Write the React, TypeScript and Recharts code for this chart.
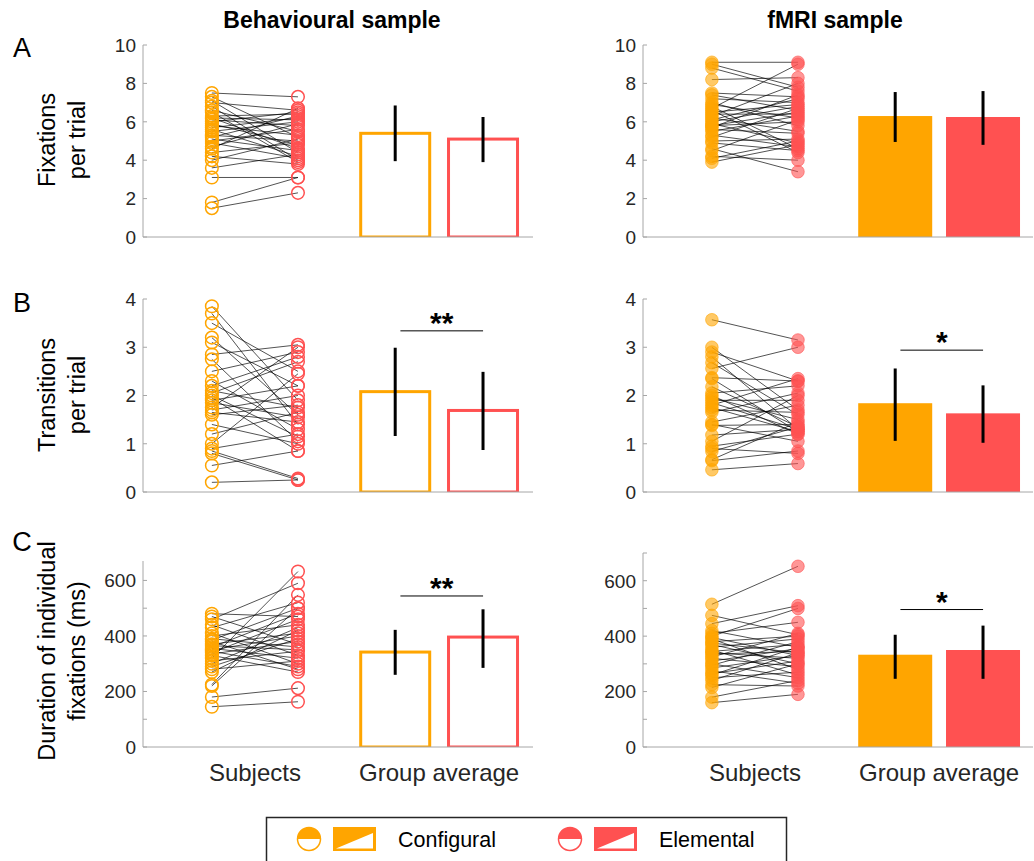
import React from "react";
import { Bar, ComposedChart, ErrorBar, Label, ReferenceLine, Scatter, XAxis, YAxis } from "recharts";

const ORANGE = "#ffa500";
const RED = "#ff5151";
const AXIS = "#a6a6a6";
const TXT = "#262626";
const FONT = "'Liberation Sans', Arial, Helvetica, sans-serif";

// x positions (axis units) of the four groups in every panel
const X_MIN = 0.2;
const X_MAX = 4.73;
const X_SUBJ = [1, 2];
const X_BAR = [3.13, 4.15];
const X_LABEL_POS = [1.5, 3.64];
const X_LABELS = ["Subjects", "Group average"];

// A: fixations per trial
const behavFixConf = [7.5, 7.3, 7.1, 7.0, 6.8, 6.6, 6.5, 6.3, 6.2, 6.2, 6.1, 6.0, 5.9, 5.8, 5.7, 5.6, 5.5, 5.3, 5.2, 5.1, 5.0, 4.9, 4.7, 4.6, 4.4, 4.2, 4.0, 3.6, 3.1, 1.8, 1.5];
const behavFixElem = [7.3, 5.2, 4.4, 6.6, 4.0, 5.5, 3.9, 6.4, 6.1, 4.6, 5.8, 6.5, 4.8, 5.3, 6.2, 4.2, 6.0, 5.0, 6.3, 4.5, 5.6, 4.1, 5.9, 6.7, 4.9, 3.8, 5.1, 4.3, 3.1, 3.1, 2.3];
const fmriFixConf = [9.1, 9.0, 8.8, 8.2, 7.5, 7.4, 7.2, 7.0, 6.9, 6.8, 6.7, 6.6, 6.5, 6.4, 6.3, 6.2, 6.1, 6.0, 5.9, 5.8, 5.8, 5.7, 5.6, 5.5, 5.3, 5.2, 5.0, 4.9, 4.6, 4.5, 4.2, 4.1, 3.9];
const fmriFixElem = [9.1, 7.8, 7.6, 8.3, 7.3, 6.6, 7.0, 5.8, 6.2, 4.6, 9.0, 4.4, 6.9, 6.4, 8.0, 5.5, 7.2, 6.8, 4.9, 6.5, 6.0, 7.4, 5.4, 6.3, 4.7, 6.7, 5.1, 4.5, 3.4, 6.1, 4.0, 5.0, 4.8];

// B: transitions per trial
const behavTrConf = [3.85, 3.7, 3.5, 3.2, 3.1, 2.85, 2.75, 2.5, 2.3, 2.2, 2.1, 2.05, 2.0, 1.95, 1.9, 1.85, 1.75, 1.7, 1.65, 1.6, 1.4, 1.2, 1.0, 0.9, 0.85, 0.8, 0.55, 0.2];
const behavTrElem = [1.9, 1.4, 2.5, 1.6, 2.2, 3.05, 1.05, 2.9, 1.3, 2.8, 1.75, 2.7, 1.15, 0.85, 2.2, 1.55, 3.0, 2.0, 1.45, 1.8, 1.0, 1.65, 2.45, 1.2, 0.28, 0.25, 0.85, 0.25];
const fmriTrConf = [3.57, 3.0, 2.9, 2.8, 2.68, 2.56, 2.37, 2.35, 2.18, 2.05, 2.0, 1.95, 1.9, 1.85, 1.8, 1.75, 1.7, 1.65, 1.45, 1.4, 1.38, 1.18, 1.05, 0.95, 0.9, 0.84, 0.67, 0.65, 0.46];
const fmriTrElem = [3.15, 1.7, 2.3, 1.3, 1.6, 3.0, 2.3, 1.25, 1.35, 2.2, 1.2, 1.5, 1.9, 1.3, 2.35, 1.25, 1.65, 2.05, 1.8, 1.05, 1.4, 1.3, 2.0, 1.2, 0.8, 1.35, 1.45, 0.85, 0.59];

// C: duration of individual fixations (ms)
const behavDurConf = [480, 470, 460, 440, 430, 410, 400, 390, 385, 380, 370, 365, 360, 355, 350, 345, 340, 335, 330, 320, 310, 300, 290, 280, 270, 225, 220, 180, 145];
const behavDurElem = [470, 370, 590, 330, 520, 300, 440, 360, 500, 280, 410, 350, 480, 320, 400, 290, 460, 380, 270, 632, 345, 430, 390, 310, 420, 548, 500, 212, 163];
const fmriDurConf = [515, 475, 445, 420, 410, 400, 395, 390, 380, 375, 370, 360, 350, 345, 340, 335, 325, 320, 310, 300, 295, 285, 275, 265, 260, 250, 240, 225, 215, 180, 160];
const fmriDurElem = [652, 405, 510, 360, 450, 500, 330, 280, 400, 340, 300, 390, 260, 370, 320, 345, 410, 290, 355, 250, 380, 330, 230, 310, 360, 270, 340, 220, 300, 240, 190];

// group averages [configural, elemental] and error bar ends
const behavFixMean = [5.4, 5.1];
const behavFixLo = [3.95, 3.9];
const behavFixHi = [6.85, 6.25];
const fmriFixMean = [6.3, 6.25];
const fmriFixLo = [4.95, 4.8];
const fmriFixHi = [7.55, 7.6];
const behavTrMean = [2.08, 1.69];
const behavTrLo = [1.16, 0.87];
const behavTrHi = [2.99, 2.49];
const fmriTrMean = [1.84, 1.63];
const fmriTrLo = [1.06, 1.02];
const fmriTrHi = [2.56, 2.21];
const behavDurMean = [342, 396];
const behavDurLo = [260, 285];
const behavDurHi = [422, 496];
const fmriDurMean = [333, 350];
const fmriDurLo = [246, 246];
const fmriDurHi = [405, 438];

type PanelProps = {
  conf: number[];
  elem: number[];
  mean: number[];
  lo: number[];
  hi: number[];
  yMax: number;
  ticks: number[];
  labelled: number[];
  filled: boolean;
  sig?: { y: number; text: string };
  left: number;
  top: number;
  plotH: number;
  showX: boolean;
};

const YW = 50;
const PLOT_W = 390;
const M_TOP = 16;

function YTick(props: any) {
  const { x, y, payload, labelled } = props;
  const ax = x + 7;
  return (
    <g>
      <line x1={ax} x2={ax + 4} y1={y} y2={y} stroke={AXIS} strokeWidth={1} />
      {labelled.includes(payload.value) && (
        <text x={x} y={y} dy="0.36em" textAnchor="end" fontSize={19} fill={TXT} fontFamily={FONT}>
          {payload.value}
        </text>
      )}
    </g>
  );
}

function XTick(props: any) {
  const { x, y, payload } = props;
  const idx = X_LABEL_POS.indexOf(payload.value);
  return (
    <text x={x} y={y + 26} textAnchor="middle" fontSize={24} fill={TXT} fontFamily={FONT}>
      {X_LABELS[idx]}
    </text>
  );
}

function Panel(p: PanelProps) {
  const colors = [ORANGE, RED];
  const bars = p.mean.map((m, i) => ({ x: X_BAR[i], mean: m, err: [m - p.lo[i], p.hi[i] - m] }));
  const confPts = p.conf.map((v) => ({ x: X_SUBJ[0], y: v }));
  const elemPts = p.elem.map((v) => ({ x: X_SUBJ[1], y: v }));
  const xH = p.showX ? 48 : 14;
  const width = YW + PLOT_W + 2;
  const height = M_TOP + p.plotH + xH;

  const barShape = (s: any) => {
    const c = colors[s.index];
    const cx = s.x + s.width / 2;
    const w = p.filled ? 74 : 69;
    return p.filled ? (
      <rect x={cx - w / 2} y={s.y} width={w} height={s.height} fill={c} />
    ) : (
      <rect x={cx - w / 2} y={s.y} width={w} height={s.height} fill="none" stroke={c} strokeWidth={3} />
    );
  };
  const dot = (c: string) => (s: any) =>
    p.filled ? (
      <circle cx={s.cx} cy={s.cy} r={6.3} fill={c} fillOpacity={0.6} stroke={c} strokeOpacity={0.6} strokeWidth={1} />
    ) : (
      <circle cx={s.cx} cy={s.cy} r={6.3} fill="none" stroke={c} strokeWidth={1.5} />
    );

  return (
    <div style={{ position: "absolute", left: p.left - YW, top: p.top - M_TOP }}>
      <ComposedChart width={width} height={height} data={bars} margin={{ top: M_TOP, right: 2, bottom: 0, left: 0 }}>
        <XAxis
          type="number"
          dataKey="x"
          domain={[X_MIN, X_MAX]}
          allowDataOverflow
          ticks={p.showX ? X_LABEL_POS : []}
          tick={p.showX ? <XTick /> : false}
          tickLine={false}
          axisLine={{ stroke: AXIS, strokeWidth: 1 }}
          height={xH}
          interval={0}
        />
        <YAxis
          type="number"
          domain={[0, p.yMax]}
          allowDataOverflow
          ticks={p.ticks}
          interval={0}
          width={YW}
          tickSize={0}
          tickMargin={7}
          tickLine={false}
          axisLine={{ stroke: AXIS, strokeWidth: 1 }}
          tick={<YTick labelled={p.labelled} />}
        />
        <Bar dataKey="mean" barSize={70} shape={barShape} isAnimationActive={false}>
          <ErrorBar dataKey="err" direction="y" width={0} stroke="#000" strokeWidth={3} />
        </Bar>
        <Scatter data={confPts} dataKey="y" shape={dot(ORANGE)} isAnimationActive={false} />
        <Scatter data={elemPts} dataKey="y" shape={dot(RED)} isAnimationActive={false} />
        {p.conf.map((v, i) => (
          <ReferenceLine
            key={i}
            segment={[
              { x: X_SUBJ[0], y: v },
              { x: X_SUBJ[1], y: p.elem[i] },
            ]}
            stroke="#000"
            strokeOpacity={0.68}
            strokeWidth={1}
          />
        ))}
        {p.sig && (
          <ReferenceLine
            segment={[
              { x: 3.19, y: p.sig.y },
              { x: 4.15, y: p.sig.y },
            ]}
            stroke="#000"
            strokeWidth={1}
          >
            <Label value={p.sig.text} position="top" offset={-2} fontSize={30} fontWeight="bold" fill="#000" fontFamily={FONT} />
          </ReferenceLine>
        )}
      </ComposedChart>
    </div>
  );
}

const LEFT_X = 143;
const RIGHT_X = 643;

export default function App() {
  return (
    <div style={{ position: "absolute", left: 0, top: 0, width: 1034, height: 861, background: "#fff", overflow: "hidden", fontFamily: FONT }}>
      <svg width={1034} height={861} style={{ position: "absolute", left: 0, top: 0 }}>
        <g fontFamily={FONT} fill="#000">
          <text x={332} y={28} textAnchor="middle" fontSize={23} fontWeight="bold">Behavioural sample</text>
          <text x={835} y={28} textAnchor="middle" fontSize={23} fontWeight="bold">fMRI sample</text>
          <text x={22} y={57} textAnchor="middle" fontSize={27}>A</text>
          <text x={22} y={312} textAnchor="middle" fontSize={27}>B</text>
          <text x={22} y={551} textAnchor="middle" fontSize={27}>C</text>
          <g fontSize={23.5} textAnchor="middle" dominantBaseline="central">
            <text transform="translate(47,140) rotate(-90)">Fixations</text>
            <text transform="translate(77,140) rotate(-90)">per trial</text>
            <text transform="translate(47,395) rotate(-90)">Transitions</text>
            <text transform="translate(77,395) rotate(-90)">per trial</text>
            <text transform="translate(47,651) rotate(-90)">Duration of individual</text>
            <text transform="translate(77,651) rotate(-90)">fixations (ms)</text>
          </g>
        </g>
        <g>
          <rect x={266.5} y={817.5} width={520} height={60} fill="#fff" stroke="#262626" strokeWidth={1.5} />
          {[
            { c: ORANGE, x: 309, t: "Configural" },
            { c: RED, x: 570, t: "Elemental" },
          ].map((e) => (
            <g key={e.t}>
              <path d={`M ${e.x - 11.5} 839 A 11.5 11.5 0 0 1 ${e.x + 11.5} 839 Z`} fill={e.c} />
              <circle cx={e.x} cy={839} r={11.5} fill="none" stroke={e.c} strokeWidth={1.5} />
              <rect x={e.x + 25} y={828} width={41} height={22} fill={e.c} stroke={e.c} strokeWidth={2} />
              <path d={`M ${e.x + 27} 848.5 L ${e.x + 64} 833 L ${e.x + 64} 848.5 Z`} fill="#fff" />
              <text x={e.x + 89} y={847} fontSize={21.5} fill="#000" fontFamily={FONT}>{e.t}</text>
            </g>
          ))}
        </g>
      </svg>

      <Panel conf={behavFixConf} elem={behavFixElem} mean={behavFixMean} lo={behavFixLo} hi={behavFixHi}
        yMax={10} ticks={[0, 2, 4, 6, 8, 10]} labelled={[0, 2, 4, 6, 8, 10]} filled={false}
        left={LEFT_X} top={45} plotH={192} showX={false} />
      <Panel conf={fmriFixConf} elem={fmriFixElem} mean={fmriFixMean} lo={fmriFixLo} hi={fmriFixHi}
        yMax={10} ticks={[0, 2, 4, 6, 8, 10]} labelled={[0, 2, 4, 6, 8, 10]} filled
        left={RIGHT_X} top={45} plotH={192} showX={false} />
      <Panel conf={behavTrConf} elem={behavTrElem} mean={behavTrMean} lo={behavTrLo} hi={behavTrHi}
        yMax={4} ticks={[0, 1, 2, 3, 4]} labelled={[0, 1, 2, 3, 4]} filled={false}
        sig={{ y: 3.34, text: "**" }}
        left={LEFT_X} top={299} plotH={193} showX={false} />
      <Panel conf={fmriTrConf} elem={fmriTrElem} mean={fmriTrMean} lo={fmriTrLo} hi={fmriTrHi}
        yMax={4} ticks={[0, 1, 2, 3, 4]} labelled={[0, 1, 2, 3, 4]} filled
        sig={{ y: 2.94, text: "*" }}
        left={RIGHT_X} top={299} plotH={193} showX={false} />
      <Panel conf={behavDurConf} elem={behavDurElem} mean={behavDurMean} lo={behavDurLo} hi={behavDurHi}
        yMax={670} ticks={[0, 100, 200, 300, 400, 500, 600]} labelled={[0, 200, 400, 600]} filled={false}
        sig={{ y: 544, text: "**" }}
        left={LEFT_X} top={561} plotH={186} showX />
      <Panel conf={fmriDurConf} elem={fmriDurElem} mean={fmriDurMean} lo={fmriDurLo} hi={fmriDurHi}
        yMax={700} ticks={[0, 100, 200, 300, 400, 500, 600, 700]} labelled={[0, 200, 400, 600]} filled
        sig={{ y: 496, text: "*" }}
        left={RIGHT_X} top={553} plotH={194} showX />
    </div>
  );
}
